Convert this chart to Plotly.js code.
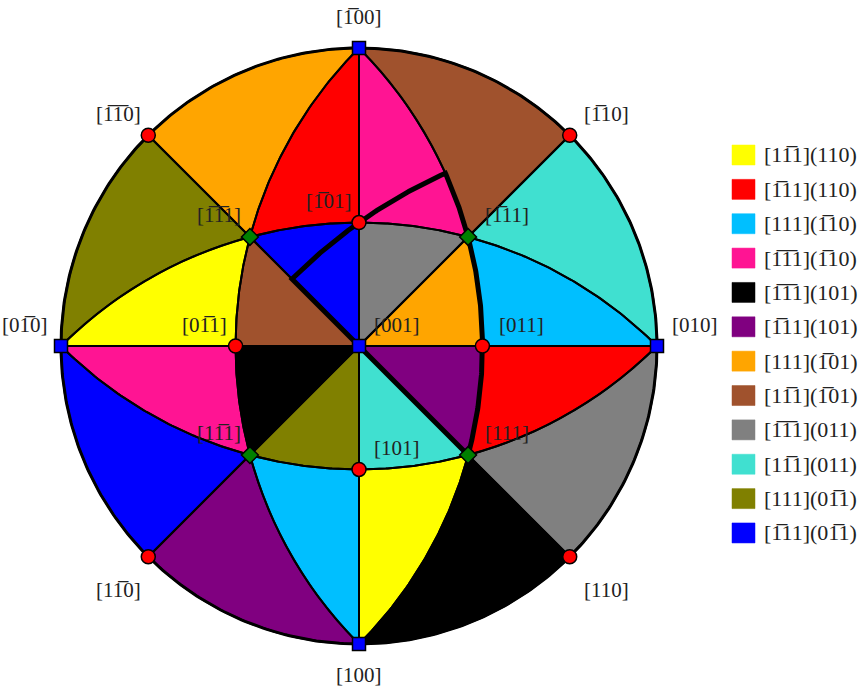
<!DOCTYPE html>
<html><head><meta charset="utf-8">
<script src="https://cdn.plot.ly/plotly-3.0.1.min.js"></script>
<style>body{margin:0;background:#fff}#chart{width:860px;height:690px}</style>
</head><body><div id="chart"></div>
<script>
const B = '\u0305'; // combining overline (bar over index)

// ---- Poles (crystal directions), labels and types ----
const poleVectors = [[-1,0,0],[-1,-1,0],[-1,1,0],[0,-1,0],[0,1,0],[1,-1,0],[1,1,0],[1,0,0],
  [-1,-1,1],[-1,0,1],[-1,1,1],[0,-1,1],[0,0,1],[0,1,1],[1,-1,1],[1,0,1],[1,1,1]];
const poleLabels = ['[1'+B+'00]','[1'+B+'1'+B+'0]','[1'+B+'10]','[01'+B+'0]','[010]','[11'+B+'0]','[110]','[100]',
  '[1'+B+'1'+B+'1]','[1'+B+'01]','[1'+B+'11]','[01'+B+'1]','[001]','[011]','[11'+B+'1]','[101]','[111]'];
const poleTypes = ['100','110','110','100','100','110','110','100','111','110','111','110','100','110','111','110','111'];

// ---- Slip systems (legend) ----
const slipLabels = ['[11'+B+'1](110)','[1'+B+'11](110)','[111](1'+B+'10)','[1'+B+'1'+B+'1](1'+B+'10)',
  '[1'+B+'1'+B+'1](101)','[1'+B+'11](101)','[111](1'+B+'01)','[11'+B+'1](1'+B+'01)',
  '[1'+B+'1'+B+'1](011)','[11'+B+'1](011)','[111](01'+B+'1)','[1'+B+'11](01'+B+'1)'];
const slipColors = ['#ffff00','#ff0000','#00bfff','#ff1493','#000000','#800080',
  '#ffa500','#a0522d','#808080','#40e0d0','#808000','#0000ff'];

// ---- Stereographic triangles: vertices (crystal directions) and active slip system ----
const regionVertices = [
  [[-1,0,0],[-1,-1,0],[-1,-1,1]], [[-1,-1,0],[0,-1,0],[-1,-1,1]], [[0,-1,0],[1,-1,0],[1,-1,1]], [[1,-1,0],[1,0,0],[1,-1,1]],
  [[1,0,0],[1,1,0],[1,1,1]], [[1,1,0],[0,1,0],[1,1,1]], [[0,1,0],[-1,1,0],[-1,1,1]], [[-1,1,0],[-1,0,0],[-1,1,1]],
  [[-1,0,0],[-1,0,1],[-1,-1,1]], [[-1,0,0],[-1,0,1],[-1,1,1]], [[0,1,0],[0,1,1],[-1,1,1]], [[0,1,0],[0,1,1],[1,1,1]],
  [[1,0,0],[1,0,1],[1,1,1]], [[1,0,0],[1,0,1],[1,-1,1]], [[0,-1,0],[0,-1,1],[1,-1,1]], [[0,-1,0],[0,-1,1],[-1,-1,1]],
  [[0,0,1],[-1,0,1],[-1,-1,1]], [[0,0,1],[0,-1,1],[-1,-1,1]], [[0,0,1],[0,-1,1],[1,-1,1]], [[0,0,1],[1,0,1],[1,-1,1]],
  [[0,0,1],[1,0,1],[1,1,1]], [[0,0,1],[0,1,1],[1,1,1]], [[0,0,1],[0,1,1],[-1,1,1]], [[0,0,1],[-1,0,1],[-1,1,1]]
];
const regionSlip = [6,10,11,5, 4,8,9,7, 1,3,2,1, 0,2,3,0, 11,7,4,10, 9,5,6,8];

// ---- Highlighted boundary path (crystal directions) ----
const pathVertices = [[0,0,1],[-1,-1,2],[-1,0,1],[-2,1,1],[-1,1,1],[0,1,1],[1,1,1],[0,0,1]];

// ---- Primitive circle poles ----
const primitiveVertices = [[1,0,0],[1,1,0],[0,1,0],[-1,1,0],[-1,0,0],[-1,-1,0],[0,-1,0],[1,-1,0],[1,0,0]];

// ---- geometry helpers ----
function norm(v){const l=Math.hypot(v[0],v[1],v[2]);return [v[0]/l,v[1]/l,v[2]/l];}
function proj(v){const n=norm(v);return [n[1]/(1+n[2]), -n[0]/(1+n[2])];}
function arc(a,b,N){
  const u=norm(a), w=norm(b);
  const d=Math.min(1,Math.max(-1,u[0]*w[0]+u[1]*w[1]+u[2]*w[2]));
  const om=Math.acos(d), s=Math.sin(om);
  const pts=[];
  for(let i=0;i<=N;i++){
    const t=i/N;
    let k1,k2;
    if(s<1e-9){k1=1-t;k2=t;}else{k1=Math.sin((1-t)*om)/s;k2=Math.sin(t*om)/s;}
    pts.push(proj([k1*u[0]+k2*w[0],k1*u[1]+k2*w[1],k1*u[2]+k2*w[2]]));
  }
  return pts;
}
function polyPath(verts, closed){
  const out=[];
  const n=verts.length, m=closed?n:n-1;
  for(let i=0;i<m;i++){
    const seg=arc(verts[i],verts[(i+1)%n],60);
    if(i>0) seg.shift();
    out.push(...seg);
  }
  return out;
}

const traces=[];
// fills
slipColors.forEach((c,si)=>{
  const xs=[],ys=[];
  regionVertices.forEach((tri,ri)=>{
    if(regionSlip[ri]!==si) return;
    const p=polyPath(tri,true);
    if(xs.length){xs.push(null);ys.push(null);}
    p.forEach(q=>{xs.push(q[0]);ys.push(q[1]);});
  });
  traces.push({type:'scatter',mode:'lines',x:xs,y:ys,fill:'toself',fillcolor:c,
    line:{width:0,color:c},hoverinfo:'skip',showlegend:false});
});
// borders
{
  const xs=[],ys=[];
  regionVertices.forEach(tri=>{
    const p=polyPath(tri,true);
    p.forEach(q=>{xs.push(q[0]);ys.push(q[1]);});
    xs.push(null);ys.push(null);
  });
  traces.push({type:'scatter',mode:'lines',x:xs,y:ys,line:{color:'#000',width:2},hoverinfo:'skip',showlegend:false});
}
// primitive circle
{
  const p=polyPath(primitiveVertices,false);
  traces.push({type:'scatter',mode:'lines',x:p.map(q=>q[0]),y:p.map(q=>q[1]),
    line:{color:'#000',width:3},hoverinfo:'skip',showlegend:false});
}
// highlighted path
{
  const p=polyPath(pathVertices,false);
  traces.push({type:'scatter',mode:'lines',x:p.map(q=>q[0]),y:p.map(q=>q[1]),
    line:{color:'#000',width:5},hoverinfo:'skip',showlegend:false});
}
// pole markers
const markerStyle={
  '110':{symbol:'circle',color:'#ff0000',size:14},
  '100':{symbol:'square',color:'#0000ff',size:13},
  '111':{symbol:'diamond',color:'#008000',size:13}
};
['110','100','111'].forEach(t=>{
  const xs=[],ys=[];
  poleVectors.forEach((v,i)=>{ if(poleTypes[i]===t){const q=proj(v);xs.push(q[0]);ys.push(q[1]);} });
  const st=markerStyle[t];
  traces.push({type:'scatter',mode:'markers',x:xs,y:ys,cliponaxis:false,hoverinfo:'skip',showlegend:false,
    marker:{symbol:st.symbol,color:st.color,size:st.size,line:{color:'#000',width:1.5}}});
});

// label offsets (px, screen: right / up)
const labelShift = [[0,31],[-30,21],[37,21],[-36,21],[38,21],[-30,-33],[37,-33],[0,-31],
  [-31,22],[-30,22],[39,22],[-31,21],[38,21],[39,21],[-31,22],[38,21],[39,22]];

const W=860,H=690,ML=20,MR=160,MT=10,MB=10, CX=359, CY=346, R=298;
const plotW=W-ML-MR, plotH=H-MT-MB;
const xr=[(ML-CX)/R,(W-MR-CX)/R], yr=[(CY-(H-MB))/R,(CY-MT)/R];
const fontFam='"Liberation Serif", "DejaVu Serif", serif';

const annotations=poleVectors.map((v,i)=>{
  const q=proj(v);
  return {x:q[0],y:q[1],xref:'x',yref:'y',text:poleLabels[i],showarrow:false,
    xshift:labelShift[i][0],yshift:labelShift[i][1],xanchor:'center',yanchor:'middle',
    font:{family:fontFam,size:21,color:'#222'}};
});
const shapes=[];
const px2x=p=>(p-ML)/plotW, py2y=p=>(H-MB-p)/plotH;
slipLabels.forEach((lab,i)=>{
  const cy=155+i*34.36;
  shapes.push({type:'rect',xref:'paper',yref:'paper',x0:px2x(732),x1:px2x(755),y0:py2y(cy+10),y1:py2y(cy-10),
    fillcolor:slipColors[i],line:{width:0.5,color:slipColors[i]},layer:'above'});
  annotations.push({xref:'paper',yref:'paper',x:px2x(762),y:py2y(cy),text:lab,showarrow:false,
    xanchor:'left',yanchor:'middle',font:{family:fontFam,size:22,color:'#222'}});
});

const layout={
  width:W,height:H,margin:{l:ML,r:MR,t:MT,b:MB,pad:0},
  paper_bgcolor:'#fff',plot_bgcolor:'#fff',showlegend:false,
  xaxis:{range:xr,visible:false,fixedrange:true},
  yaxis:{range:yr,visible:false,fixedrange:true},
  annotations:annotations,shapes:shapes
};
Plotly.newPlot('chart',traces,layout,{displayModeBar:false,staticPlot:true});
</script></body></html>
